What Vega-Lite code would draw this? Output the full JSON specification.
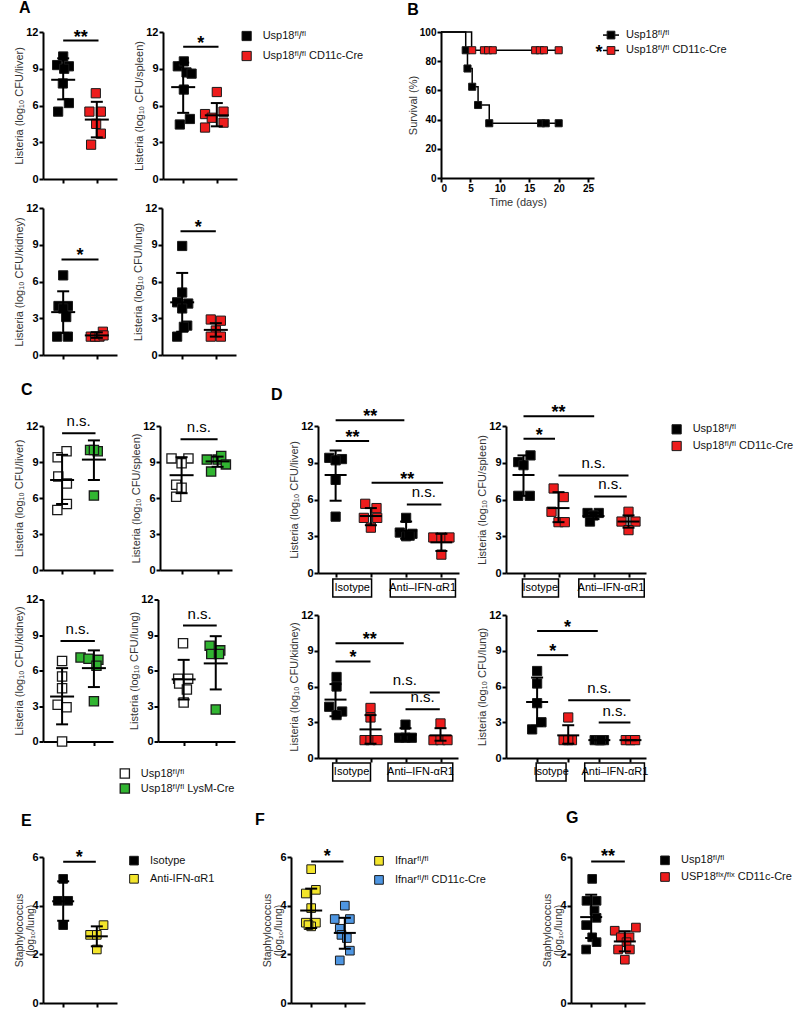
{
"$schema":"https://vega.github.io/schema/vega-lite/v6.json",
"padding":{"left":2,"top":0,"right":0,"bottom":0},
"background":"#ffffff",
"config":{
 "font":"Liberation Sans",
 "view":{"stroke":null},
 "axis":{"grid":false,"domainColor":"#000","domainWidth":2,"tickColor":"#000","tickWidth":2,"tickSize":4,"labelPadding":1,"labelOverlap":false,"labelFontWeight":"bold","labelFontSize":11,"labelColor":"#000","titleFontWeight":"normal","titleFontSize":11,"titleColor":"#333","titlePadding":2},
 "axisX":{"labels":false},
 "title":{"anchor":"start","fontSize":16,"fontWeight":"bold","color":"#000","frame":"bounds"},
 "point":{"opacity":1},
 "tick":{"opacity":1}
},
"datasets":{
"all":[
{"p":"A1","k":"pt","g":"bk","x":1.0,"y":10.0},{"p":"A1","k":"pt","g":"bk","x":0.82,"y":9.3},{"p":"A1","k":"pt","g":"bk","x":1.17,"y":9.2},{"p":"A1","k":"pt","g":"bk","x":1.03,"y":9.0},{"p":"A1","k":"pt","g":"bk","x":0.99,"y":7.8},{"p":"A1","k":"pt","g":"bk","x":1.17,"y":6.2},{"p":"A1","k":"pt","g":"bk","x":0.85,"y":5.5},
{"p":"A1","k":"pt","g":"rd","x":1.97,"y":7.0},{"p":"A1","k":"pt","g":"rd","x":1.78,"y":5.5},{"p":"A1","k":"pt","g":"rd","x":2.12,"y":5.5},{"p":"A1","k":"pt","g":"rd","x":1.98,"y":4.5},{"p":"A1","k":"pt","g":"rd","x":2.12,"y":3.7},{"p":"A1","k":"pt","g":"rd","x":1.83,"y":2.8},
{"p":"A1","k":"st","x":1,"m":8.1,"lo":6.5,"hi":9.85},{"p":"A1","k":"st","x":2,"m":4.85,"lo":3.4,"hi":6.3},
{"p":"A1","k":"sig","x1":1.0,"x2":2.05,"xc":1.52,"y":11.3,"t":"**"},

{"p":"A2","k":"pt","g":"bk","x":0.84,"y":9.2},{"p":"A2","k":"pt","g":"bk","x":1.02,"y":9.6},{"p":"A2","k":"pt","g":"bk","x":1.1,"y":8.7},{"p":"A2","k":"pt","g":"bk","x":1.25,"y":8.6},{"p":"A2","k":"pt","g":"bk","x":1.02,"y":7.3},{"p":"A2","k":"pt","g":"bk","x":0.9,"y":4.45},{"p":"A2","k":"pt","g":"bk","x":1.2,"y":4.9},
{"p":"A2","k":"pt","g":"rd","x":2.0,"y":7.1},{"p":"A2","k":"pt","g":"rd","x":1.65,"y":5.3},{"p":"A2","k":"pt","g":"rd","x":1.85,"y":5.0},{"p":"A2","k":"pt","g":"rd","x":2.2,"y":5.5},{"p":"A2","k":"pt","g":"rd","x":2.2,"y":4.6},{"p":"A2","k":"pt","g":"rd","x":1.65,"y":4.2},
{"p":"A2","k":"st","x":1,"m":7.5,"lo":5.4,"hi":9.5},{"p":"A2","k":"st","x":2,"m":5.2,"lo":4.3,"hi":6.2},
{"p":"A2","k":"sig","x1":1.0,"x2":2.05,"xc":1.52,"y":10.8,"t":"*"},

{"p":"A3","k":"pt","g":"bk","x":1.0,"y":6.5},{"p":"A3","k":"pt","g":"bk","x":0.86,"y":4.0},{"p":"A3","k":"pt","g":"bk","x":1.14,"y":4.0},{"p":"A3","k":"pt","g":"bk","x":1.0,"y":3.8},{"p":"A3","k":"pt","g":"bk","x":1.09,"y":3.1},{"p":"A3","k":"pt","g":"bk","x":0.82,"y":1.5},{"p":"A3","k":"pt","g":"bk","x":1.14,"y":1.5},
{"p":"A3","k":"pt","g":"rd","x":2.18,"y":1.9},{"p":"A3","k":"pt","g":"rd","x":1.82,"y":1.5},{"p":"A3","k":"pt","g":"rd","x":1.95,"y":1.5},{"p":"A3","k":"pt","g":"rd","x":2.08,"y":1.5},{"p":"A3","k":"pt","g":"rd","x":2.2,"y":1.6},
{"p":"A3","k":"st","x":1,"m":3.5,"lo":1.8,"hi":5.2},{"p":"A3","k":"st","x":2,"m":1.6,"lo":1.4,"hi":1.85},
{"p":"A3","k":"sig","x1":0.95,"x2":2.05,"xc":1.5,"y":7.8,"t":"*"},

{"p":"A4","k":"pt","g":"bk","x":1.0,"y":8.9},{"p":"A4","k":"pt","g":"bk","x":1.0,"y":5.1},{"p":"A4","k":"pt","g":"bk","x":0.85,"y":4.3},{"p":"A4","k":"pt","g":"bk","x":1.18,"y":4.2},{"p":"A4","k":"pt","g":"bk","x":1.0,"y":3.8},{"p":"A4","k":"pt","g":"bk","x":1.15,"y":2.4},{"p":"A4","k":"pt","g":"bk","x":1.05,"y":2.3},{"p":"A4","k":"pt","g":"bk","x":0.85,"y":1.5},
{"p":"A4","k":"pt","g":"rd","x":1.85,"y":2.9},{"p":"A4","k":"pt","g":"rd","x":2.15,"y":2.8},{"p":"A4","k":"pt","g":"rd","x":2.0,"y":2.0},{"p":"A4","k":"pt","g":"rd","x":1.85,"y":1.5},{"p":"A4","k":"pt","g":"rd","x":2.15,"y":1.5},
{"p":"A4","k":"st","x":1,"m":4.3,"lo":1.9,"hi":6.7},{"p":"A4","k":"st","x":2,"m":2.05,"lo":1.5,"hi":2.6},
{"p":"A4","k":"sig","x1":0.95,"x2":2.0,"xc":1.48,"y":10.1,"t":"*"},

{"p":"B","k":"ln","g":"bk","d":0,"s":100},{"p":"B","k":"ln","g":"bk","d":4.2,"s":87.5},{"p":"B","k":"ln","g":"bk","d":4.5,"s":75},{"p":"B","k":"ln","g":"bk","d":5.3,"s":62.5},{"p":"B","k":"ln","g":"bk","d":6.3,"s":50},{"p":"B","k":"ln","g":"bk","d":8.2,"s":37.5},{"p":"B","k":"ln","g":"bk","d":20,"s":37.5},
{"p":"B","k":"ln","g":"rd","d":0,"s":100},{"p":"B","k":"ln","g":"rd","d":5.2,"s":87.5},{"p":"B","k":"ln","g":"rd","d":20,"s":87.5},
{"p":"B","k":"mk","g":"bk","d":4.2,"s":87.5},{"p":"B","k":"mk","g":"bk","d":4.5,"s":75},{"p":"B","k":"mk","g":"bk","d":5.3,"s":62.5},{"p":"B","k":"mk","g":"bk","d":6.3,"s":50},{"p":"B","k":"mk","g":"bk","d":8.2,"s":37.5},{"p":"B","k":"mk","g":"bk","d":17.0,"s":37.5},{"p":"B","k":"mk","g":"bk","d":17.8,"s":37.5},{"p":"B","k":"mk","g":"bk","d":20,"s":37.5},
{"p":"B","k":"mk","g":"rd","d":5.3,"s":87.5},{"p":"B","k":"mk","g":"rd","d":7.3,"s":87.5},{"p":"B","k":"mk","g":"rd","d":8.0,"s":87.5},{"p":"B","k":"mk","g":"rd","d":8.8,"s":87.5},{"p":"B","k":"mk","g":"rd","d":16.0,"s":87.5},{"p":"B","k":"mk","g":"rd","d":16.8,"s":87.5},{"p":"B","k":"mk","g":"rd","d":17.5,"s":87.5},{"p":"B","k":"mk","g":"rd","d":20,"s":87.5},

{"p":"C1","k":"pt","g":"wh","x":1.14,"y":9.9},{"p":"C1","k":"pt","g":"wh","x":0.86,"y":9.4},{"p":"C1","k":"pt","g":"wh","x":0.88,"y":7.8},{"p":"C1","k":"pt","g":"wh","x":1.15,"y":7.2},{"p":"C1","k":"pt","g":"wh","x":1.15,"y":5.5},{"p":"C1","k":"pt","g":"wh","x":0.85,"y":5.0},
{"p":"C1","k":"pt","g":"gn","x":1.88,"y":10.0},{"p":"C1","k":"pt","g":"gn","x":2.12,"y":9.9},{"p":"C1","k":"pt","g":"gn","x":2.0,"y":10.0},{"p":"C1","k":"pt","g":"gn","x":2.0,"y":6.2},
{"p":"C1","k":"st","x":1,"m":7.5,"lo":5.5,"hi":9.6},{"p":"C1","k":"st","x":2,"m":9.2,"lo":7.5,"hi":10.8},
{"p":"C1","k":"sig","x1":1.0,"x2":2.05,"xc":1.52,"y":11.4,"t":"n.s."},

{"p":"C2","k":"pt","g":"wh","x":0.72,"y":9.3},{"p":"C2","k":"pt","g":"wh","x":1.19,"y":9.3},{"p":"C2","k":"pt","g":"wh","x":1.0,"y":8.9},{"p":"C2","k":"pt","g":"wh","x":0.85,"y":7.1},{"p":"C2","k":"pt","g":"wh","x":1.0,"y":6.85},{"p":"C2","k":"pt","g":"wh","x":0.85,"y":6.1},
{"p":"C2","k":"pt","g":"gn","x":1.7,"y":9.2},{"p":"C2","k":"pt","g":"gn","x":2.0,"y":9.2},{"p":"C2","k":"pt","g":"gn","x":2.1,"y":9.5},{"p":"C2","k":"pt","g":"gn","x":2.23,"y":8.8},{"p":"C2","k":"pt","g":"gn","x":1.82,"y":8.2},
{"p":"C2","k":"st","x":1,"m":7.9,"lo":6.4,"hi":9.4},{"p":"C2","k":"st","x":2,"m":9.05,"lo":8.6,"hi":9.45},
{"p":"C2","k":"sig","x1":0.97,"x2":2.0,"xc":1.48,"y":10.9,"t":"n.s."},

{"p":"C3","k":"pt","g":"wh","x":1.0,"y":6.8},{"p":"C3","k":"pt","g":"wh","x":1.0,"y":5.5},{"p":"C3","k":"pt","g":"wh","x":1.0,"y":4.5},{"p":"C3","k":"pt","g":"wh","x":0.86,"y":3.1},{"p":"C3","k":"pt","g":"wh","x":1.14,"y":2.9},{"p":"C3","k":"pt","g":"wh","x":1.0,"y":0.0},
{"p":"C3","k":"pt","g":"gn","x":1.58,"y":7.1},{"p":"C3","k":"pt","g":"gn","x":1.83,"y":7.0},{"p":"C3","k":"pt","g":"gn","x":2.14,"y":6.9},{"p":"C3","k":"pt","g":"gn","x":2.08,"y":6.4},{"p":"C3","k":"pt","g":"gn","x":2.0,"y":3.4},
{"p":"C3","k":"st","x":1,"m":3.8,"lo":1.45,"hi":6.2},{"p":"C3","k":"st","x":2,"m":6.2,"lo":4.6,"hi":7.7},
{"p":"C3","k":"sig","x1":0.95,"x2":2.03,"xc":1.49,"y":8.5,"t":"n.s."},

{"p":"C4","k":"pt","g":"wh","x":0.98,"y":8.3},{"p":"C4","k":"pt","g":"wh","x":0.83,"y":5.3},{"p":"C4","k":"pt","g":"wh","x":1.14,"y":5.3},{"p":"C4","k":"pt","g":"wh","x":0.86,"y":4.9},{"p":"C4","k":"pt","g":"wh","x":1.1,"y":4.4},{"p":"C4","k":"pt","g":"wh","x":1.0,"y":3.3},
{"p":"C4","k":"pt","g":"gn","x":1.81,"y":8.1},{"p":"C4","k":"pt","g":"gn","x":2.14,"y":7.7},{"p":"C4","k":"pt","g":"gn","x":1.86,"y":7.4},{"p":"C4","k":"pt","g":"gn","x":2.1,"y":7.4},{"p":"C4","k":"pt","g":"gn","x":2.0,"y":2.7},
{"p":"C4","k":"st","x":1,"m":5.25,"lo":3.55,"hi":6.9},{"p":"C4","k":"st","x":2,"m":6.6,"lo":4.4,"hi":8.9},
{"p":"C4","k":"sig","x1":0.98,"x2":2.03,"xc":1.5,"y":9.8,"t":"n.s."},

{"p":"D1","k":"pt","g":"bk","x":0.82,"y":9.4},{"p":"D1","k":"pt","g":"bk","x":1.18,"y":9.3},{"p":"D1","k":"pt","g":"bk","x":1.0,"y":9.2},{"p":"D1","k":"pt","g":"bk","x":1.0,"y":7.6},{"p":"D1","k":"pt","g":"bk","x":1.0,"y":4.6},
{"p":"D1","k":"pt","g":"rd","x":1.84,"y":5.65},{"p":"D1","k":"pt","g":"rd","x":2.16,"y":5.3},{"p":"D1","k":"pt","g":"rd","x":1.8,"y":4.5},{"p":"D1","k":"pt","g":"rd","x":2.18,"y":4.5},{"p":"D1","k":"pt","g":"rd","x":2.0,"y":3.7},
{"p":"D1","k":"pt","g":"bk","x":3.0,"y":4.5},{"p":"D1","k":"pt","g":"bk","x":2.82,"y":3.3},{"p":"D1","k":"pt","g":"bk","x":3.18,"y":3.2},{"p":"D1","k":"pt","g":"bk","x":3.0,"y":3.0},{"p":"D1","k":"pt","g":"bk","x":3.1,"y":3.05},
{"p":"D1","k":"pt","g":"rd","x":3.77,"y":2.9},{"p":"D1","k":"pt","g":"rd","x":4.0,"y":2.9},{"p":"D1","k":"pt","g":"rd","x":4.23,"y":2.9},{"p":"D1","k":"pt","g":"rd","x":4.0,"y":1.5},
{"p":"D1","k":"st","x":1,"m":8.0,"lo":5.9,"hi":10.0},{"p":"D1","k":"st","x":2,"m":4.65,"lo":3.9,"hi":5.3},{"p":"D1","k":"st","x":3,"m":3.45,"lo":2.8,"hi":4.2},{"p":"D1","k":"st","x":4,"m":2.5,"lo":1.8,"hi":3.2},
{"p":"D1","k":"sig","x1":1.0,"x2":2.95,"xc":1.98,"y":12.46,"t":"**"},{"p":"D1","k":"sig","x1":1.0,"x2":1.95,"xc":1.48,"y":10.77,"t":"**"},{"p":"D1","k":"sig","x1":2.02,"x2":4.05,"xc":3.03,"y":7.36,"t":"**"},{"p":"D1","k":"sig","x1":3.02,"x2":4.0,"xc":3.5,"y":5.6,"t":"n.s."},
{"p":"D1","k":"box","x1":0.92,"x2":2.02,"xc":1.47,"t":"Isotype"},{"p":"D1","k":"box","x1":2.55,"x2":4.4,"xc":3.47,"t":"Anti–IFN-αR1"},

{"p":"D2","k":"pt","g":"bk","x":0.85,"y":9.05},{"p":"D2","k":"pt","g":"bk","x":1.2,"y":9.6},{"p":"D2","k":"pt","g":"bk","x":1.0,"y":8.8},{"p":"D2","k":"pt","g":"bk","x":0.85,"y":6.3},{"p":"D2","k":"pt","g":"bk","x":1.18,"y":6.3},
{"p":"D2","k":"pt","g":"rd","x":1.86,"y":6.9},{"p":"D2","k":"pt","g":"rd","x":2.15,"y":6.2},{"p":"D2","k":"pt","g":"rd","x":1.8,"y":5.0},{"p":"D2","k":"pt","g":"rd","x":2.0,"y":4.15},{"p":"D2","k":"pt","g":"rd","x":2.18,"y":4.15},
{"p":"D2","k":"pt","g":"bk","x":2.83,"y":4.9},{"p":"D2","k":"pt","g":"bk","x":3.15,"y":4.9},{"p":"D2","k":"pt","g":"bk","x":3.0,"y":4.7},{"p":"D2","k":"pt","g":"bk","x":2.9,"y":4.2},
{"p":"D2","k":"pt","g":"rd","x":4.0,"y":5.0},{"p":"D2","k":"pt","g":"rd","x":3.8,"y":4.2},{"p":"D2","k":"pt","g":"rd","x":4.2,"y":4.2},{"p":"D2","k":"pt","g":"rd","x":4.0,"y":3.5},
{"p":"D2","k":"st","x":1,"m":8.0,"lo":6.3,"hi":9.6},{"p":"D2","k":"st","x":2,"m":5.3,"lo":4.15,"hi":6.6},{"p":"D2","k":"st","x":3,"m":4.65,"lo":4.4,"hi":4.9},{"p":"D2","k":"st","x":4,"m":4.2,"lo":3.7,"hi":4.7},
{"p":"D2","k":"sig","x1":1.0,"x2":3.02,"xc":2.0,"y":12.8,"t":"**"},{"p":"D2","k":"sig","x1":1.0,"x2":1.9,"xc":1.45,"y":10.96,"t":"*"},{"p":"D2","k":"sig","x1":2.0,"x2":4.0,"xc":3.0,"y":7.96,"t":"n.s."},{"p":"D2","k":"sig","x1":3.02,"x2":3.95,"xc":3.48,"y":6.25,"t":"n.s."},
{"p":"D2","k":"box","x1":0.97,"x2":2.0,"xc":1.48,"t":"Isotype"},{"p":"D2","k":"box","x1":2.58,"x2":4.45,"xc":3.5,"t":"Anti–IFN-αR1"},

{"p":"D3","k":"pt","g":"bk","x":1.03,"y":6.8},{"p":"D3","k":"pt","g":"bk","x":1.03,"y":6.0},{"p":"D3","k":"pt","g":"bk","x":0.82,"y":4.3},{"p":"D3","k":"pt","g":"bk","x":1.19,"y":3.9},{"p":"D3","k":"pt","g":"bk","x":1.03,"y":3.6},
{"p":"D3","k":"pt","g":"rd","x":2.0,"y":4.2},{"p":"D3","k":"pt","g":"rd","x":2.0,"y":3.4},{"p":"D3","k":"pt","g":"rd","x":1.83,"y":1.5},{"p":"D3","k":"pt","g":"rd","x":2.0,"y":1.5},{"p":"D3","k":"pt","g":"rd","x":2.2,"y":1.5},
{"p":"D3","k":"pt","g":"bk","x":3.0,"y":2.8},{"p":"D3","k":"pt","g":"bk","x":2.82,"y":1.7},{"p":"D3","k":"pt","g":"bk","x":3.0,"y":1.7},{"p":"D3","k":"pt","g":"bk","x":3.18,"y":1.7},
{"p":"D3","k":"pt","g":"rd","x":4.0,"y":2.9},{"p":"D3","k":"pt","g":"rd","x":3.8,"y":1.5},{"p":"D3","k":"pt","g":"rd","x":4.0,"y":1.5},{"p":"D3","k":"pt","g":"rd","x":4.2,"y":1.5},
{"p":"D3","k":"st","x":1,"m":4.9,"lo":3.5,"hi":6.2},{"p":"D3","k":"st","x":2,"m":2.4,"lo":1.2,"hi":3.6},{"p":"D3","k":"st","x":3,"m":1.95,"lo":1.45,"hi":2.5},{"p":"D3","k":"st","x":4,"m":1.9,"lo":1.45,"hi":2.5},
{"p":"D3","k":"sig","x1":1.0,"x2":2.95,"xc":1.98,"y":9.63,"t":"**"},{"p":"D3","k":"sig","x1":1.0,"x2":2.0,"xc":1.5,"y":8.1,"t":"*"},{"p":"D3","k":"sig","x1":1.98,"x2":3.98,"xc":2.98,"y":5.5,"t":"n.s."},{"p":"D3","k":"sig","x1":3.0,"x2":3.98,"xc":3.49,"y":4.1,"t":"n.s."},
{"p":"D3","k":"box","x1":0.92,"x2":2.0,"xc":1.46,"t":"Isotype"},{"p":"D3","k":"box","x1":2.5,"x2":4.35,"xc":3.43,"t":"Anti–IFN-αR1"},

{"p":"D4","k":"pt","g":"bk","x":1.0,"y":7.3},{"p":"D4","k":"pt","g":"bk","x":1.0,"y":6.25},{"p":"D4","k":"pt","g":"bk","x":1.0,"y":4.6},{"p":"D4","k":"pt","g":"bk","x":1.14,"y":3.0},{"p":"D4","k":"pt","g":"bk","x":0.84,"y":2.4},
{"p":"D4","k":"pt","g":"rd","x":2.0,"y":3.4},{"p":"D4","k":"pt","g":"rd","x":1.85,"y":1.5},{"p":"D4","k":"pt","g":"rd","x":2.12,"y":1.5},{"p":"D4","k":"pt","g":"rd","x":2.0,"y":1.5},
{"p":"D4","k":"pt","g":"bk","x":2.85,"y":1.5},{"p":"D4","k":"pt","g":"bk","x":3.0,"y":1.5},{"p":"D4","k":"pt","g":"bk","x":3.15,"y":1.5},{"p":"D4","k":"pt","g":"bk","x":3.05,"y":1.5},
{"p":"D4","k":"pt","g":"rd","x":3.85,"y":1.5},{"p":"D4","k":"pt","g":"rd","x":4.0,"y":1.5},{"p":"D4","k":"pt","g":"rd","x":4.15,"y":1.5},
{"p":"D4","k":"st","x":1,"m":4.7,"lo":2.7,"hi":6.75},{"p":"D4","k":"st","x":2,"m":1.9,"lo":1.2,"hi":2.75},{"p":"D4","k":"st","x":3,"m":1.5,"lo":1.5,"hi":1.5},{"p":"D4","k":"st","x":4,"m":1.5,"lo":1.5,"hi":1.5},
{"p":"D4","k":"sig","x1":1.0,"x2":2.95,"xc":1.98,"y":10.65,"t":"*"},{"p":"D4","k":"sig","x1":1.0,"x2":2.0,"xc":1.5,"y":8.63,"t":"*"},{"p":"D4","k":"sig","x1":2.0,"x2":4.0,"xc":3.0,"y":4.85,"t":"n.s."},{"p":"D4","k":"sig","x1":2.98,"x2":4.0,"xc":3.49,"y":2.97,"t":"n.s."},
{"p":"D4","k":"box","x1":0.97,"x2":1.93,"xc":1.45,"t":"Isotype"},{"p":"D4","k":"box","x1":2.53,"x2":4.45,"xc":3.5,"t":"Anti–IFN-αR1"},

{"p":"E","k":"pt","g":"bk","x":1.0,"y":5.1},{"p":"E","k":"pt","g":"bk","x":0.84,"y":4.2},{"p":"E","k":"pt","g":"bk","x":1.15,"y":4.2},{"p":"E","k":"pt","g":"bk","x":1.0,"y":3.2},
{"p":"E","k":"pt","g":"yl","x":2.2,"y":3.2},{"p":"E","k":"pt","g":"yl","x":1.8,"y":2.8},{"p":"E","k":"pt","g":"yl","x":2.0,"y":2.8},{"p":"E","k":"pt","g":"yl","x":2.0,"y":2.2},
{"p":"E","k":"st","x":1,"m":4.18,"lo":3.38,"hi":5.0},{"p":"E","k":"st","x":2,"m":2.74,"lo":2.33,"hi":3.15},
{"p":"E","k":"sig","x1":1.0,"x2":1.97,"xc":1.48,"y":5.8,"t":"*"},

{"p":"F","k":"pt","g":"yl","x":1.0,"y":5.5},{"p":"F","k":"pt","g":"yl","x":1.14,"y":4.65},{"p":"F","k":"pt","g":"yl","x":0.84,"y":4.5},{"p":"F","k":"pt","g":"yl","x":1.0,"y":3.9},{"p":"F","k":"pt","g":"yl","x":0.84,"y":3.3},{"p":"F","k":"pt","g":"yl","x":1.14,"y":3.3},{"p":"F","k":"pt","g":"yl","x":1.0,"y":3.15},{"p":"F","k":"pt","g":"yl","x":0.92,"y":3.2},
{"p":"F","k":"pt","g":"bl","x":2.0,"y":4.0},{"p":"F","k":"pt","g":"bl","x":1.7,"y":3.45},{"p":"F","k":"pt","g":"bl","x":2.15,"y":3.45},{"p":"F","k":"pt","g":"bl","x":1.85,"y":3.05},{"p":"F","k":"pt","g":"bl","x":1.9,"y":2.8},{"p":"F","k":"pt","g":"bl","x":2.06,"y":2.67},{"p":"F","k":"pt","g":"bl","x":2.15,"y":2.15},{"p":"F","k":"pt","g":"bl","x":1.85,"y":1.75},
{"p":"F","k":"st","x":1,"m":3.8,"lo":3.08,"hi":4.7},{"p":"F","k":"st","x":2,"m":2.88,"lo":2.23,"hi":3.5},
{"p":"F","k":"sig","x1":1.0,"x2":1.96,"xc":1.48,"y":5.82,"t":"*"},

{"p":"G","k":"pt","g":"bk","x":1.03,"y":5.1},{"p":"G","k":"pt","g":"bk","x":0.86,"y":4.2},{"p":"G","k":"pt","g":"bk","x":1.16,"y":4.2},{"p":"G","k":"pt","g":"bk","x":1.1,"y":3.8},{"p":"G","k":"pt","g":"bk","x":1.16,"y":3.5},{"p":"G","k":"pt","g":"bk","x":0.85,"y":3.2},{"p":"G","k":"pt","g":"bk","x":1.03,"y":2.7},{"p":"G","k":"pt","g":"bk","x":1.16,"y":2.5},{"p":"G","k":"pt","g":"bk","x":0.85,"y":2.2},
{"p":"G","k":"pt","g":"rd","x":2.33,"y":3.1},{"p":"G","k":"pt","g":"rd","x":1.7,"y":2.97},{"p":"G","k":"pt","g":"rd","x":1.88,"y":2.7},{"p":"G","k":"pt","g":"rd","x":2.14,"y":2.7},{"p":"G","k":"pt","g":"rd","x":2.05,"y":2.5},{"p":"G","k":"pt","g":"rd","x":1.8,"y":2.2},{"p":"G","k":"pt","g":"rd","x":2.15,"y":2.2},{"p":"G","k":"pt","g":"rd","x":2.0,"y":1.78},
{"p":"G","k":"st","x":1,"m":3.53,"lo":2.67,"hi":4.45},{"p":"G","k":"st","x":2,"m":2.53,"lo":2.12,"hi":2.95},
{"p":"G","k":"sig","x1":1.0,"x2":2.0,"xc":1.5,"y":5.82,"t":"**"}
],
"leg":[
{"L":"A","i":0,"g":"bk","t":"Usp18ᶠˡ/ᶠˡ"},{"L":"A","i":1,"g":"rd","t":"Usp18ᶠˡ/ᶠˡ CD11c-Cre"},
{"L":"B","i":0,"g":"bk","t":"Usp18ᶠˡ/ᶠˡ"},{"L":"B","i":1,"g":"rd","t":"Usp18ᶠˡ/ᶠˡ CD11c-Cre","s":"*"},
{"L":"C","i":0,"g":"wh","t":"Usp18ᶠˡ/ᶠˡ"},{"L":"C","i":1,"g":"gn","t":"Usp18ᶠˡ/ᶠˡ LysM-Cre"},
{"L":"D","i":0,"g":"bk","t":"Usp18ᶠˡ/ᶠˡ"},{"L":"D","i":1,"g":"rd","t":"Usp18ᶠˡ/ᶠˡ CD11c-Cre"},
{"L":"E","i":0,"g":"bk","t":"Isotype"},{"L":"E","i":1,"g":"yl","t":"Anti-IFN-αR1"},
{"L":"F","i":0,"g":"yl","t":"Ifnarᶠˡ/ᶠˡ"},{"L":"F","i":1,"g":"bl","t":"Ifnarᶠˡ/ᶠˡ CD11c-Cre"},
{"L":"G","i":0,"g":"bk","t":"Usp18ᶠˡ/ᶠˡ"},{"L":"G","i":1,"g":"rd","t":"USP18ᶠˡˣ/ᶠˡˣ CD11c-Cre"}
]
},
"spacing":22,
"vconcat":[
{"spacing":24,"hconcat":[
 {"title":{"text":"A","dx":17,"offset":10},"spacing":18,"vconcat":[
  {"bounds":"flush","spacing":46,"hconcat":[
   {"width":74,"height":147,"data":{"name":"all"},"transform":[{"filter":"datum.p=='A1'"}],"layer":[
    {"transform":[{"filter":"datum.k=='pt'"}],"mark":{"type":"point","shape":"square","filled":true,"size":85,"stroke":"#1a1a1a","strokeWidth":1},"encoding":{"x":{"field":"x","type":"quantitative","scale":{"domain":[0.5,2.5]},"axis":{"values":[1,2],"tickCount":20,"title":null}},"y":{"field":"y","type":"quantitative","scale":{"domain":[0,12]},"axis":{"values":[0,3,6,9,12],"tickCount":20,"labelOverlap":false,"format":"d","title":"Listeria (log₁₀ CFU/liver)","minExtent":41,"titleX":-19}},"fill":{"field":"g","type":"nominal","scale":{"domain":["bk","rd","wh","gn","yl","bl"],"range":["#000000","#ee1c1c","#ffffff","#31b531","#f3e52b","#4e96e2"]},"legend":null}}},
    {"transform":[{"filter":"datum.k=='st'"}],"mark":{"type":"rule","strokeWidth":2,"color":"#000"},"encoding":{"x":{"field":"x","type":"quantitative"},"y":{"field":"lo","type":"quantitative"},"y2":{"field":"hi"}}},
    {"transform":[{"filter":"datum.k=='st'"}],"mark":{"type":"tick","orient":"horizontal","size":24,"thickness":2,"color":"#000"},"encoding":{"x":{"field":"x","type":"quantitative"},"y":{"field":"m","type":"quantitative"}}},
    {"transform":[{"filter":"datum.k=='st'"}],"mark":{"type":"tick","orient":"horizontal","size":12,"thickness":2,"color":"#000"},"encoding":{"x":{"field":"x","type":"quantitative"},"y":{"field":"lo","type":"quantitative"}}},
    {"transform":[{"filter":"datum.k=='st'"}],"mark":{"type":"tick","orient":"horizontal","size":12,"thickness":2,"color":"#000"},"encoding":{"x":{"field":"x","type":"quantitative"},"y":{"field":"hi","type":"quantitative"}}},
    {"transform":[{"filter":"datum.k=='sig'"}],"mark":{"type":"rule","strokeWidth":2,"color":"#000"},"encoding":{"x":{"field":"x1","type":"quantitative"},"x2":{"field":"x2"},"y":{"field":"y","type":"quantitative"}}},
    {"transform":[{"filter":"datum.k=='sig' && datum.t!='n.s.'"}],"mark":{"type":"text","fontSize":18,"fontWeight":"bold","baseline":"alphabetic","dy":2,"color":"#000"},"encoding":{"x":{"field":"xc","type":"quantitative"},"y":{"field":"y","type":"quantitative"},"text":{"field":"t"}}}
   ]},
   {"width":74,"height":147,"data":{"name":"all"},"transform":[{"filter":"datum.p=='A2'"}],"layer":[
    {"transform":[{"filter":"datum.k=='pt'"}],"mark":{"type":"point","shape":"square","filled":true,"size":85,"stroke":"#1a1a1a","strokeWidth":1},"encoding":{"x":{"field":"x","type":"quantitative","scale":{"domain":[0.5,2.5]},"axis":{"values":[1,2],"tickCount":20,"title":null}},"y":{"field":"y","type":"quantitative","scale":{"domain":[0,12]},"axis":{"values":[0,3,6,9,12],"tickCount":20,"labelOverlap":false,"format":"d","title":"Listeria (log₁₀ CFU/spleen)","minExtent":41,"titleX":-19}},"fill":{"field":"g","type":"nominal","scale":{"domain":["bk","rd","wh","gn","yl","bl"],"range":["#000000","#ee1c1c","#ffffff","#31b531","#f3e52b","#4e96e2"]},"legend":null}}},
    {"transform":[{"filter":"datum.k=='st'"}],"mark":{"type":"rule","strokeWidth":2,"color":"#000"},"encoding":{"x":{"field":"x","type":"quantitative"},"y":{"field":"lo","type":"quantitative"},"y2":{"field":"hi"}}},
    {"transform":[{"filter":"datum.k=='st'"}],"mark":{"type":"tick","orient":"horizontal","size":24,"thickness":2,"color":"#000"},"encoding":{"x":{"field":"x","type":"quantitative"},"y":{"field":"m","type":"quantitative"}}},
    {"transform":[{"filter":"datum.k=='st'"}],"mark":{"type":"tick","orient":"horizontal","size":12,"thickness":2,"color":"#000"},"encoding":{"x":{"field":"x","type":"quantitative"},"y":{"field":"lo","type":"quantitative"}}},
    {"transform":[{"filter":"datum.k=='st'"}],"mark":{"type":"tick","orient":"horizontal","size":12,"thickness":2,"color":"#000"},"encoding":{"x":{"field":"x","type":"quantitative"},"y":{"field":"hi","type":"quantitative"}}},
    {"transform":[{"filter":"datum.k=='sig'"}],"mark":{"type":"rule","strokeWidth":2,"color":"#000"},"encoding":{"x":{"field":"x1","type":"quantitative"},"x2":{"field":"x2"},"y":{"field":"y","type":"quantitative"}}},
    {"transform":[{"filter":"datum.k=='sig' && datum.t!='n.s.'"}],"mark":{"type":"text","fontSize":18,"fontWeight":"bold","baseline":"alphabetic","dy":2,"color":"#000"},"encoding":{"x":{"field":"xc","type":"quantitative"},"y":{"field":"y","type":"quantitative"},"text":{"field":"t"}}}
   ]},
   {"width":100,"height":44,"data":{"name":"leg"},"transform":[{"filter":"datum.L=='A'"}],"layer":[
    {"mark":{"type":"point","shape":"square","filled":true,"size":85,"stroke":"#1a1a1a","strokeWidth":1},"encoding":{"x":{"datum":0,"type":"quantitative","scale":{"domain":[0.46,1.46]},"axis":null},"y":{"field":"i","type":"quantitative","scale":{"domain":[-0.0909,1.909],"reverse":true},"axis":null},"fill":{"field":"g","type":"nominal","scale":{"domain":["bk","rd","wh","gn","yl","bl"],"range":["#000000","#ee1c1c","#ffffff","#31b531","#f3e52b","#4e96e2"]},"legend":null}}},
    {"mark":{"type":"text","align":"left","baseline":"middle","dx":16,"fontSize":11,"color":"#111"},"encoding":{"x":{"datum":0,"type":"quantitative"},"y":{"field":"i","type":"quantitative"},"text":{"field":"t"}}}
   ]}
  ]},
  {"bounds":"flush","spacing":45,"hconcat":[
   {"width":74,"height":147,"data":{"name":"all"},"transform":[{"filter":"datum.p=='A3'"}],"layer":[
    {"transform":[{"filter":"datum.k=='pt'"}],"mark":{"type":"point","shape":"square","filled":true,"size":85,"stroke":"#1a1a1a","strokeWidth":1},"encoding":{"x":{"field":"x","type":"quantitative","scale":{"domain":[0.5,2.5]},"axis":{"values":[1,2],"tickCount":20,"title":null}},"y":{"field":"y","type":"quantitative","scale":{"domain":[0,12]},"axis":{"values":[0,3,6,9,12],"tickCount":20,"labelOverlap":false,"format":"d","title":"Listeria (log₁₀ CFU/kidney)","minExtent":41,"titleX":-19}},"fill":{"field":"g","type":"nominal","scale":{"domain":["bk","rd","wh","gn","yl","bl"],"range":["#000000","#ee1c1c","#ffffff","#31b531","#f3e52b","#4e96e2"]},"legend":null}}},
    {"transform":[{"filter":"datum.k=='st'"}],"mark":{"type":"rule","strokeWidth":2,"color":"#000"},"encoding":{"x":{"field":"x","type":"quantitative"},"y":{"field":"lo","type":"quantitative"},"y2":{"field":"hi"}}},
    {"transform":[{"filter":"datum.k=='st'"}],"mark":{"type":"tick","orient":"horizontal","size":24,"thickness":2,"color":"#000"},"encoding":{"x":{"field":"x","type":"quantitative"},"y":{"field":"m","type":"quantitative"}}},
    {"transform":[{"filter":"datum.k=='st'"}],"mark":{"type":"tick","orient":"horizontal","size":12,"thickness":2,"color":"#000"},"encoding":{"x":{"field":"x","type":"quantitative"},"y":{"field":"lo","type":"quantitative"}}},
    {"transform":[{"filter":"datum.k=='st'"}],"mark":{"type":"tick","orient":"horizontal","size":12,"thickness":2,"color":"#000"},"encoding":{"x":{"field":"x","type":"quantitative"},"y":{"field":"hi","type":"quantitative"}}},
    {"transform":[{"filter":"datum.k=='sig'"}],"mark":{"type":"rule","strokeWidth":2,"color":"#000"},"encoding":{"x":{"field":"x1","type":"quantitative"},"x2":{"field":"x2"},"y":{"field":"y","type":"quantitative"}}},
    {"transform":[{"filter":"datum.k=='sig' && datum.t!='n.s.'"}],"mark":{"type":"text","fontSize":18,"fontWeight":"bold","baseline":"alphabetic","dy":2,"color":"#000"},"encoding":{"x":{"field":"xc","type":"quantitative"},"y":{"field":"y","type":"quantitative"},"text":{"field":"t"}}}
   ]},
   {"width":74,"height":147,"data":{"name":"all"},"transform":[{"filter":"datum.p=='A4'"}],"layer":[
    {"transform":[{"filter":"datum.k=='pt'"}],"mark":{"type":"point","shape":"square","filled":true,"size":85,"stroke":"#1a1a1a","strokeWidth":1},"encoding":{"x":{"field":"x","type":"quantitative","scale":{"domain":[0.5,2.5]},"axis":{"values":[1,2],"tickCount":20,"title":null}},"y":{"field":"y","type":"quantitative","scale":{"domain":[0,12]},"axis":{"values":[0,3,6,9,12],"tickCount":20,"labelOverlap":false,"format":"d","title":"Listeria (log₁₀ CFU/lung)","minExtent":41,"titleX":-19}},"fill":{"field":"g","type":"nominal","scale":{"domain":["bk","rd","wh","gn","yl","bl"],"range":["#000000","#ee1c1c","#ffffff","#31b531","#f3e52b","#4e96e2"]},"legend":null}}},
    {"transform":[{"filter":"datum.k=='st'"}],"mark":{"type":"rule","strokeWidth":2,"color":"#000"},"encoding":{"x":{"field":"x","type":"quantitative"},"y":{"field":"lo","type":"quantitative"},"y2":{"field":"hi"}}},
    {"transform":[{"filter":"datum.k=='st'"}],"mark":{"type":"tick","orient":"horizontal","size":24,"thickness":2,"color":"#000"},"encoding":{"x":{"field":"x","type":"quantitative"},"y":{"field":"m","type":"quantitative"}}},
    {"transform":[{"filter":"datum.k=='st'"}],"mark":{"type":"tick","orient":"horizontal","size":12,"thickness":2,"color":"#000"},"encoding":{"x":{"field":"x","type":"quantitative"},"y":{"field":"lo","type":"quantitative"}}},
    {"transform":[{"filter":"datum.k=='st'"}],"mark":{"type":"tick","orient":"horizontal","size":12,"thickness":2,"color":"#000"},"encoding":{"x":{"field":"x","type":"quantitative"},"y":{"field":"hi","type":"quantitative"}}},
    {"transform":[{"filter":"datum.k=='sig'"}],"mark":{"type":"rule","strokeWidth":2,"color":"#000"},"encoding":{"x":{"field":"x1","type":"quantitative"},"x2":{"field":"x2"},"y":{"field":"y","type":"quantitative"}}},
    {"transform":[{"filter":"datum.k=='sig' && datum.t!='n.s.'"}],"mark":{"type":"text","fontSize":18,"fontWeight":"bold","baseline":"alphabetic","dy":2,"color":"#000"},"encoding":{"x":{"field":"xc","type":"quantitative"},"y":{"field":"y","type":"quantitative"},"text":{"field":"t"}}}
   ]}
  ]}
 ]},
 {"title":{"text":"B","dx":0,"offset":9},"bounds":"flush","spacing":17,"hconcat":[
  {"width":153,"height":146,"data":{"name":"all"},"transform":[{"filter":"datum.p=='B'"}],"layer":[
   {"transform":[{"filter":"datum.k=='ln'"}],"mark":{"type":"line","interpolate":"step-after","color":"#000","strokeWidth":1.5},"encoding":{"x":{"field":"d","type":"quantitative","scale":{"domain":[0,25]},"axis":{"values":[0,5,10,15,20,25],"tickCount":20,"labelOverlap":false,"format":"d","labels":true,"title":"Time (days)","labelFontSize":10,"titlePadding":3}},"y":{"field":"s","type":"quantitative","scale":{"domain":[0,100]},"axis":{"values":[0,20,40,60,80,100],"tickCount":20,"labelOverlap":false,"format":"d","title":"Survival (%)","labelFontSize":10,"titlePadding":1}},"detail":{"field":"g"}}},
   {"transform":[{"filter":"datum.k=='mk'"}],"mark":{"type":"point","shape":"square","filled":true,"size":50,"stroke":"#1a1a1a","strokeWidth":1},"encoding":{"x":{"field":"d","type":"quantitative"},"y":{"field":"s","type":"quantitative"},"fill":{"field":"g","type":"nominal","scale":{"domain":["bk","rd","wh","gn","yl","bl"],"range":["#000000","#ee1c1c","#ffffff","#31b531","#f3e52b","#4e96e2"]},"legend":null}}}
  ]},
  {"width":100,"height":40,"data":{"name":"leg"},"transform":[{"filter":"datum.L=='B'"}],"layer":[
   {"mark":{"type":"rule","color":"#000","strokeWidth":1.5},"encoding":{"x":{"datum":-0.08,"type":"quantitative","scale":{"domain":[0,1]},"axis":null},"x2":{"datum":0.08},"y":{"field":"i","type":"quantitative","scale":{"domain":[-0.1176,2.235],"reverse":true},"axis":null}}},
   {"mark":{"type":"point","shape":"square","filled":true,"size":60,"stroke":"#1a1a1a","strokeWidth":1},"encoding":{"x":{"datum":0,"type":"quantitative"},"y":{"field":"i","type":"quantitative"},"fill":{"field":"g","type":"nominal","scale":{"domain":["bk","rd","wh","gn","yl","bl"],"range":["#000000","#ee1c1c","#ffffff","#31b531","#f3e52b","#4e96e2"]},"legend":null}}},
   {"mark":{"type":"text","align":"left","baseline":"middle","dx":15,"fontSize":11,"color":"#111"},"encoding":{"x":{"datum":0,"type":"quantitative"},"y":{"field":"i","type":"quantitative"},"text":{"field":"t"}}},
   {"transform":[{"filter":"datum.s"}],"mark":{"type":"text","align":"center","baseline":"middle","dx":-12,"dy":3,"fontSize":18,"fontWeight":"bold","color":"#000"},"encoding":{"x":{"datum":0,"type":"quantitative"},"y":{"field":"i","type":"quantitative"},"text":{"field":"s"}}}
  ]}
 ]}
]},
{"spacing":12,"vconcat":[
 {"spacing":36,"hconcat":[
  {"title":{"text":"C","dx":19,"offset":16},"spacing":16.5,"vconcat":[
   {"spacing":18.5,"vconcat":[
   {"bounds":"flush","spacing":47,"hconcat":[
    {"width":70,"height":144,"data":{"name":"all"},"transform":[{"filter":"datum.p=='C1'"}],"layer":[
     {"transform":[{"filter":"datum.k=='pt'"}],"mark":{"type":"point","shape":"square","filled":true,"size":85,"stroke":"#1a1a1a","strokeWidth":1.3},"encoding":{"x":{"field":"x","type":"quantitative","scale":{"domain":[0.5,2.5]},"axis":{"values":[1,2],"tickCount":20,"title":null}},"y":{"field":"y","type":"quantitative","scale":{"domain":[0,12]},"axis":{"values":[0,3,6,9,12],"tickCount":20,"labelOverlap":false,"format":"d","title":"Listeria (log₁₀ CFU/liver)","minExtent":41,"titleX":-19}},"fill":{"field":"g","type":"nominal","scale":{"domain":["bk","rd","wh","gn","yl","bl"],"range":["#000000","#ee1c1c","#ffffff","#31b531","#f3e52b","#4e96e2"]},"legend":null}}},
     {"transform":[{"filter":"datum.k=='st'"}],"mark":{"type":"rule","strokeWidth":2,"color":"#000"},"encoding":{"x":{"field":"x","type":"quantitative"},"y":{"field":"lo","type":"quantitative"},"y2":{"field":"hi"}}},
     {"transform":[{"filter":"datum.k=='st'"}],"mark":{"type":"tick","orient":"horizontal","size":24,"thickness":2,"color":"#000"},"encoding":{"x":{"field":"x","type":"quantitative"},"y":{"field":"m","type":"quantitative"}}},
     {"transform":[{"filter":"datum.k=='st'"}],"mark":{"type":"tick","orient":"horizontal","size":12,"thickness":2,"color":"#000"},"encoding":{"x":{"field":"x","type":"quantitative"},"y":{"field":"lo","type":"quantitative"}}},
     {"transform":[{"filter":"datum.k=='st'"}],"mark":{"type":"tick","orient":"horizontal","size":12,"thickness":2,"color":"#000"},"encoding":{"x":{"field":"x","type":"quantitative"},"y":{"field":"hi","type":"quantitative"}}},
     {"transform":[{"filter":"datum.k=='sig'"}],"mark":{"type":"rule","strokeWidth":2,"color":"#000"},"encoding":{"x":{"field":"x1","type":"quantitative"},"x2":{"field":"x2"},"y":{"field":"y","type":"quantitative"}}},
     {"transform":[{"filter":"datum.k=='sig' && datum.t=='n.s.'"}],"mark":{"type":"text","fontSize":15,"baseline":"alphabetic","dy":-7,"color":"#000"},"encoding":{"x":{"field":"xc","type":"quantitative"},"y":{"field":"y","type":"quantitative"},"text":{"field":"t"}}}
    ]},
    {"width":72,"height":144,"data":{"name":"all"},"transform":[{"filter":"datum.p=='C2'"}],"layer":[
     {"transform":[{"filter":"datum.k=='pt'"}],"mark":{"type":"point","shape":"square","filled":true,"size":85,"stroke":"#1a1a1a","strokeWidth":1.3},"encoding":{"x":{"field":"x","type":"quantitative","scale":{"domain":[0.4,2.4]},"axis":{"values":[1,2],"tickCount":20,"title":null}},"y":{"field":"y","type":"quantitative","scale":{"domain":[0,12]},"axis":{"values":[0,3,6,9,12],"tickCount":20,"labelOverlap":false,"format":"d","title":"Listeria (log₁₀ CFU/spleen)","minExtent":41,"titleX":-19}},"fill":{"field":"g","type":"nominal","scale":{"domain":["bk","rd","wh","gn","yl","bl"],"range":["#000000","#ee1c1c","#ffffff","#31b531","#f3e52b","#4e96e2"]},"legend":null}}},
     {"transform":[{"filter":"datum.k=='st'"}],"mark":{"type":"rule","strokeWidth":2,"color":"#000"},"encoding":{"x":{"field":"x","type":"quantitative"},"y":{"field":"lo","type":"quantitative"},"y2":{"field":"hi"}}},
     {"transform":[{"filter":"datum.k=='st'"}],"mark":{"type":"tick","orient":"horizontal","size":24,"thickness":2,"color":"#000"},"encoding":{"x":{"field":"x","type":"quantitative"},"y":{"field":"m","type":"quantitative"}}},
     {"transform":[{"filter":"datum.k=='st'"}],"mark":{"type":"tick","orient":"horizontal","size":12,"thickness":2,"color":"#000"},"encoding":{"x":{"field":"x","type":"quantitative"},"y":{"field":"lo","type":"quantitative"}}},
     {"transform":[{"filter":"datum.k=='st'"}],"mark":{"type":"tick","orient":"horizontal","size":12,"thickness":2,"color":"#000"},"encoding":{"x":{"field":"x","type":"quantitative"},"y":{"field":"hi","type":"quantitative"}}},
     {"transform":[{"filter":"datum.k=='sig'"}],"mark":{"type":"rule","strokeWidth":2,"color":"#000"},"encoding":{"x":{"field":"x1","type":"quantitative"},"x2":{"field":"x2"},"y":{"field":"y","type":"quantitative"}}},
     {"transform":[{"filter":"datum.k=='sig' && datum.t=='n.s.'"}],"mark":{"type":"text","fontSize":15,"baseline":"alphabetic","dy":-7,"color":"#000"},"encoding":{"x":{"field":"xc","type":"quantitative"},"y":{"field":"y","type":"quantitative"},"text":{"field":"t"}}}
    ]}
   ]},
   {"bounds":"flush","spacing":45,"hconcat":[
    {"width":70,"height":142,"data":{"name":"all"},"transform":[{"filter":"datum.p=='C3'"}],"layer":[
     {"transform":[{"filter":"datum.k=='pt'"}],"mark":{"type":"point","shape":"square","filled":true,"size":85,"stroke":"#1a1a1a","strokeWidth":1.3},"encoding":{"x":{"field":"x","type":"quantitative","scale":{"domain":[0.5,2.5]},"axis":{"values":[1,2],"tickCount":20,"title":null}},"y":{"field":"y","type":"quantitative","scale":{"domain":[0,12]},"axis":{"values":[0,3,6,9,12],"tickCount":20,"labelOverlap":false,"format":"d","title":"Listeria (log₁₀ CFU/kidney)","minExtent":41,"titleX":-19}},"fill":{"field":"g","type":"nominal","scale":{"domain":["bk","rd","wh","gn","yl","bl"],"range":["#000000","#ee1c1c","#ffffff","#31b531","#f3e52b","#4e96e2"]},"legend":null}}},
     {"transform":[{"filter":"datum.k=='st'"}],"mark":{"type":"rule","strokeWidth":2,"color":"#000"},"encoding":{"x":{"field":"x","type":"quantitative"},"y":{"field":"lo","type":"quantitative"},"y2":{"field":"hi"}}},
     {"transform":[{"filter":"datum.k=='st'"}],"mark":{"type":"tick","orient":"horizontal","size":24,"thickness":2,"color":"#000"},"encoding":{"x":{"field":"x","type":"quantitative"},"y":{"field":"m","type":"quantitative"}}},
     {"transform":[{"filter":"datum.k=='st'"}],"mark":{"type":"tick","orient":"horizontal","size":12,"thickness":2,"color":"#000"},"encoding":{"x":{"field":"x","type":"quantitative"},"y":{"field":"lo","type":"quantitative"}}},
     {"transform":[{"filter":"datum.k=='st'"}],"mark":{"type":"tick","orient":"horizontal","size":12,"thickness":2,"color":"#000"},"encoding":{"x":{"field":"x","type":"quantitative"},"y":{"field":"hi","type":"quantitative"}}},
     {"transform":[{"filter":"datum.k=='sig'"}],"mark":{"type":"rule","strokeWidth":2,"color":"#000"},"encoding":{"x":{"field":"x1","type":"quantitative"},"x2":{"field":"x2"},"y":{"field":"y","type":"quantitative"}}},
     {"transform":[{"filter":"datum.k=='sig' && datum.t=='n.s.'"}],"mark":{"type":"text","fontSize":15,"baseline":"alphabetic","dy":-7,"color":"#000"},"encoding":{"x":{"field":"xc","type":"quantitative"},"y":{"field":"y","type":"quantitative"},"text":{"field":"t"}}}
    ]},
    {"width":77,"height":142,"data":{"name":"all"},"transform":[{"filter":"datum.p=='C4'"}],"layer":[
     {"transform":[{"filter":"datum.k=='pt'"}],"mark":{"type":"point","shape":"square","filled":true,"size":85,"stroke":"#1a1a1a","strokeWidth":1.3},"encoding":{"x":{"field":"x","type":"quantitative","scale":{"domain":[0.33,2.52]},"axis":{"values":[1,2],"tickCount":20,"title":null}},"y":{"field":"y","type":"quantitative","scale":{"domain":[0,12]},"axis":{"values":[0,3,6,9,12],"tickCount":20,"labelOverlap":false,"format":"d","title":"Listeria (log₁₀ CFU/lung)","minExtent":41,"titleX":-19}},"fill":{"field":"g","type":"nominal","scale":{"domain":["bk","rd","wh","gn","yl","bl"],"range":["#000000","#ee1c1c","#ffffff","#31b531","#f3e52b","#4e96e2"]},"legend":null}}},
     {"transform":[{"filter":"datum.k=='st'"}],"mark":{"type":"rule","strokeWidth":2,"color":"#000"},"encoding":{"x":{"field":"x","type":"quantitative"},"y":{"field":"lo","type":"quantitative"},"y2":{"field":"hi"}}},
     {"transform":[{"filter":"datum.k=='st'"}],"mark":{"type":"tick","orient":"horizontal","size":24,"thickness":2,"color":"#000"},"encoding":{"x":{"field":"x","type":"quantitative"},"y":{"field":"m","type":"quantitative"}}},
     {"transform":[{"filter":"datum.k=='st'"}],"mark":{"type":"tick","orient":"horizontal","size":12,"thickness":2,"color":"#000"},"encoding":{"x":{"field":"x","type":"quantitative"},"y":{"field":"lo","type":"quantitative"}}},
     {"transform":[{"filter":"datum.k=='st'"}],"mark":{"type":"tick","orient":"horizontal","size":12,"thickness":2,"color":"#000"},"encoding":{"x":{"field":"x","type":"quantitative"},"y":{"field":"hi","type":"quantitative"}}},
     {"transform":[{"filter":"datum.k=='sig'"}],"mark":{"type":"rule","strokeWidth":2,"color":"#000"},"encoding":{"x":{"field":"x1","type":"quantitative"},"x2":{"field":"x2"},"y":{"field":"y","type":"quantitative"}}},
     {"transform":[{"filter":"datum.k=='sig' && datum.t=='n.s.'"}],"mark":{"type":"text","fontSize":15,"baseline":"alphabetic","dy":-7,"color":"#000"},"encoding":{"x":{"field":"xc","type":"quantitative"},"y":{"field":"y","type":"quantitative"},"text":{"field":"t"}}}
    ]}
   ]}
   ]},
   {"width":100,"height":30,"data":{"name":"leg"},"transform":[{"filter":"datum.L=='C'"}],"layer":[
    {"mark":{"type":"point","shape":"square","filled":true,"size":85,"stroke":"#1a1a1a","strokeWidth":1.3},"encoding":{"x":{"datum":0,"type":"quantitative","scale":{"domain":[-0.857,0.143]},"axis":null},"y":{"field":"i","type":"quantitative","scale":{"domain":[-0.256,1.449],"reverse":true},"axis":null},"fill":{"field":"g","type":"nominal","scale":{"domain":["bk","rd","wh","gn","yl","bl"],"range":["#000000","#ee1c1c","#ffffff","#31b531","#f3e52b","#4e96e2"]},"legend":null}}},
    {"mark":{"type":"text","align":"left","baseline":"middle","dx":16,"fontSize":11,"color":"#111"},"encoding":{"x":{"datum":0,"type":"quantitative"},"y":{"field":"i","type":"quantitative"},"text":{"field":"t"}}}
   ]}
  ]},
  {"title":{"text":"D","dx":-6,"offset":1},"spacing":11,"vconcat":[
   {"bounds":"flush","spacing":47,"hconcat":[
    {"width":141,"height":147,"data":{"name":"all"},"transform":[{"filter":"datum.p=='D1'"}],"layer":[
     {"transform":[{"filter":"datum.k=='pt'"}],"mark":{"type":"point","shape":"square","filled":true,"size":85,"stroke":"#1a1a1a","strokeWidth":1},"encoding":{"x":{"field":"x","type":"quantitative","scale":{"domain":[0.5,4.35]},"axis":{"values":[1,2,3,4],"tickCount":20,"title":null}},"y":{"field":"y","type":"quantitative","scale":{"domain":[0,12]},"axis":{"values":[0,3,6,9,12],"tickCount":20,"labelOverlap":false,"format":"d","title":"Listeria (log₁₀ CFU/liver)","minExtent":41,"titleX":-19}},"fill":{"field":"g","type":"nominal","scale":{"domain":["bk","rd","wh","gn","yl","bl"],"range":["#000000","#ee1c1c","#ffffff","#31b531","#f3e52b","#4e96e2"]},"legend":null}}},
     {"transform":[{"filter":"datum.k=='st'"}],"mark":{"type":"rule","strokeWidth":2,"color":"#000"},"encoding":{"x":{"field":"x","type":"quantitative"},"y":{"field":"lo","type":"quantitative"},"y2":{"field":"hi"}}},
     {"transform":[{"filter":"datum.k=='st'"}],"mark":{"type":"tick","orient":"horizontal","size":22,"thickness":2,"color":"#000"},"encoding":{"x":{"field":"x","type":"quantitative"},"y":{"field":"m","type":"quantitative"}}},
     {"transform":[{"filter":"datum.k=='st'"}],"mark":{"type":"tick","orient":"horizontal","size":12,"thickness":2,"color":"#000"},"encoding":{"x":{"field":"x","type":"quantitative"},"y":{"field":"lo","type":"quantitative"}}},
     {"transform":[{"filter":"datum.k=='st'"}],"mark":{"type":"tick","orient":"horizontal","size":12,"thickness":2,"color":"#000"},"encoding":{"x":{"field":"x","type":"quantitative"},"y":{"field":"hi","type":"quantitative"}}},
     {"transform":[{"filter":"datum.k=='sig'"}],"mark":{"type":"rule","strokeWidth":2,"color":"#000"},"encoding":{"x":{"field":"x1","type":"quantitative"},"x2":{"field":"x2"},"y":{"field":"y","type":"quantitative"}}},
     {"transform":[{"filter":"datum.k=='sig' && datum.t!='n.s.'"}],"mark":{"type":"text","fontSize":18,"fontWeight":"bold","baseline":"alphabetic","dy":2,"color":"#000"},"encoding":{"x":{"field":"xc","type":"quantitative"},"y":{"field":"y","type":"quantitative"},"text":{"field":"t"}}},
     {"transform":[{"filter":"datum.k=='sig' && datum.t=='n.s.'"}],"mark":{"type":"text","fontSize":15,"baseline":"alphabetic","dy":-7,"color":"#000"},"encoding":{"x":{"field":"xc","type":"quantitative"},"y":{"field":"y","type":"quantitative"},"text":{"field":"t"}}},
     {"transform":[{"filter":"datum.k=='box'"}],"mark":{"type":"rect","fill":"#fff","stroke":"#000","strokeWidth":1.5,"yOffset":6,"y2Offset":24},"encoding":{"x":{"field":"x1","type":"quantitative"},"x2":{"field":"x2"},"y":{"datum":0},"y2":{"datum":0}}},
     {"transform":[{"filter":"datum.k=='box'"}],"mark":{"type":"text","fontSize":11,"baseline":"middle","dy":15,"color":"#000"},"encoding":{"x":{"field":"xc","type":"quantitative"},"y":{"datum":0},"text":{"field":"t"}}}
    ]},
    {"width":140,"height":147,"data":{"name":"all"},"transform":[{"filter":"datum.p=='D2'"}],"layer":[
     {"transform":[{"filter":"datum.k=='pt'"}],"mark":{"type":"point","shape":"square","filled":true,"size":85,"stroke":"#1a1a1a","strokeWidth":1},"encoding":{"x":{"field":"x","type":"quantitative","scale":{"domain":[0.5,4.29]},"axis":{"values":[1,2,3,4],"tickCount":20,"title":null}},"y":{"field":"y","type":"quantitative","scale":{"domain":[0,12]},"axis":{"values":[0,3,6,9,12],"tickCount":20,"labelOverlap":false,"format":"d","title":"Listeria (log₁₀ CFU/spleen)","minExtent":41,"titleX":-19}},"fill":{"field":"g","type":"nominal","scale":{"domain":["bk","rd","wh","gn","yl","bl"],"range":["#000000","#ee1c1c","#ffffff","#31b531","#f3e52b","#4e96e2"]},"legend":null}}},
     {"transform":[{"filter":"datum.k=='st'"}],"mark":{"type":"rule","strokeWidth":2,"color":"#000"},"encoding":{"x":{"field":"x","type":"quantitative"},"y":{"field":"lo","type":"quantitative"},"y2":{"field":"hi"}}},
     {"transform":[{"filter":"datum.k=='st'"}],"mark":{"type":"tick","orient":"horizontal","size":22,"thickness":2,"color":"#000"},"encoding":{"x":{"field":"x","type":"quantitative"},"y":{"field":"m","type":"quantitative"}}},
     {"transform":[{"filter":"datum.k=='st'"}],"mark":{"type":"tick","orient":"horizontal","size":12,"thickness":2,"color":"#000"},"encoding":{"x":{"field":"x","type":"quantitative"},"y":{"field":"lo","type":"quantitative"}}},
     {"transform":[{"filter":"datum.k=='st'"}],"mark":{"type":"tick","orient":"horizontal","size":12,"thickness":2,"color":"#000"},"encoding":{"x":{"field":"x","type":"quantitative"},"y":{"field":"hi","type":"quantitative"}}},
     {"transform":[{"filter":"datum.k=='sig'"}],"mark":{"type":"rule","strokeWidth":2,"color":"#000"},"encoding":{"x":{"field":"x1","type":"quantitative"},"x2":{"field":"x2"},"y":{"field":"y","type":"quantitative"}}},
     {"transform":[{"filter":"datum.k=='sig' && datum.t!='n.s.'"}],"mark":{"type":"text","fontSize":18,"fontWeight":"bold","baseline":"alphabetic","dy":2,"color":"#000"},"encoding":{"x":{"field":"xc","type":"quantitative"},"y":{"field":"y","type":"quantitative"},"text":{"field":"t"}}},
     {"transform":[{"filter":"datum.k=='sig' && datum.t=='n.s.'"}],"mark":{"type":"text","fontSize":15,"baseline":"alphabetic","dy":-7,"color":"#000"},"encoding":{"x":{"field":"xc","type":"quantitative"},"y":{"field":"y","type":"quantitative"},"text":{"field":"t"}}},
     {"transform":[{"filter":"datum.k=='box'"}],"mark":{"type":"rect","fill":"#fff","stroke":"#000","strokeWidth":1.5,"yOffset":6,"y2Offset":24},"encoding":{"x":{"field":"x1","type":"quantitative"},"x2":{"field":"x2"},"y":{"datum":0},"y2":{"datum":0}}},
     {"transform":[{"filter":"datum.k=='box'"}],"mark":{"type":"text","fontSize":11,"baseline":"middle","dy":15,"color":"#000"},"encoding":{"x":{"field":"xc","type":"quantitative"},"y":{"datum":0},"text":{"field":"t"}}}
    ]},
    {"width":90,"height":40,"data":{"name":"leg"},"transform":[{"filter":"datum.L=='D'"}],"layer":[
     {"mark":{"type":"point","shape":"square","filled":true,"size":85,"stroke":"#1a1a1a","strokeWidth":1},"encoding":{"x":{"datum":0,"type":"quantitative","scale":{"domain":[0.233,1.233]},"axis":null},"y":{"field":"i","type":"quantitative","scale":{"domain":[-0.03,2.19],"reverse":true},"axis":null},"fill":{"field":"g","type":"nominal","scale":{"domain":["bk","rd","wh","gn","yl","bl"],"range":["#000000","#ee1c1c","#ffffff","#31b531","#f3e52b","#4e96e2"]},"legend":null}}},
     {"mark":{"type":"text","align":"left","baseline":"middle","dx":16,"fontSize":11,"color":"#111"},"encoding":{"x":{"datum":0,"type":"quantitative"},"y":{"field":"i","type":"quantitative"},"text":{"field":"t"}}}
    ]}
   ]},
   {"bounds":"flush","spacing":48,"hconcat":[
    {"width":140,"height":143,"data":{"name":"all"},"transform":[{"filter":"datum.p=='D3'"}],"layer":[
     {"transform":[{"filter":"datum.k=='pt'"}],"mark":{"type":"point","shape":"square","filled":true,"size":85,"stroke":"#1a1a1a","strokeWidth":1},"encoding":{"x":{"field":"x","type":"quantitative","scale":{"domain":[0.54,4.44]},"axis":{"values":[1,2,3,4],"tickCount":20,"title":null}},"y":{"field":"y","type":"quantitative","scale":{"domain":[0,12]},"axis":{"values":[0,3,6,9,12],"tickCount":20,"labelOverlap":false,"format":"d","title":"Listeria (log₁₀ CFU/kidney)","minExtent":41,"titleX":-19}},"fill":{"field":"g","type":"nominal","scale":{"domain":["bk","rd","wh","gn","yl","bl"],"range":["#000000","#ee1c1c","#ffffff","#31b531","#f3e52b","#4e96e2"]},"legend":null}}},
     {"transform":[{"filter":"datum.k=='st'"}],"mark":{"type":"rule","strokeWidth":2,"color":"#000"},"encoding":{"x":{"field":"x","type":"quantitative"},"y":{"field":"lo","type":"quantitative"},"y2":{"field":"hi"}}},
     {"transform":[{"filter":"datum.k=='st'"}],"mark":{"type":"tick","orient":"horizontal","size":22,"thickness":2,"color":"#000"},"encoding":{"x":{"field":"x","type":"quantitative"},"y":{"field":"m","type":"quantitative"}}},
     {"transform":[{"filter":"datum.k=='st'"}],"mark":{"type":"tick","orient":"horizontal","size":12,"thickness":2,"color":"#000"},"encoding":{"x":{"field":"x","type":"quantitative"},"y":{"field":"lo","type":"quantitative"}}},
     {"transform":[{"filter":"datum.k=='st'"}],"mark":{"type":"tick","orient":"horizontal","size":12,"thickness":2,"color":"#000"},"encoding":{"x":{"field":"x","type":"quantitative"},"y":{"field":"hi","type":"quantitative"}}},
     {"transform":[{"filter":"datum.k=='sig'"}],"mark":{"type":"rule","strokeWidth":2,"color":"#000"},"encoding":{"x":{"field":"x1","type":"quantitative"},"x2":{"field":"x2"},"y":{"field":"y","type":"quantitative"}}},
     {"transform":[{"filter":"datum.k=='sig' && datum.t!='n.s.'"}],"mark":{"type":"text","fontSize":18,"fontWeight":"bold","baseline":"alphabetic","dy":2,"color":"#000"},"encoding":{"x":{"field":"xc","type":"quantitative"},"y":{"field":"y","type":"quantitative"},"text":{"field":"t"}}},
     {"transform":[{"filter":"datum.k=='sig' && datum.t=='n.s.'"}],"mark":{"type":"text","fontSize":15,"baseline":"alphabetic","dy":-7,"color":"#000"},"encoding":{"x":{"field":"xc","type":"quantitative"},"y":{"field":"y","type":"quantitative"},"text":{"field":"t"}}},
     {"transform":[{"filter":"datum.k=='box'"}],"mark":{"type":"rect","fill":"#fff","stroke":"#000","strokeWidth":1.5,"yOffset":5,"y2Offset":23},"encoding":{"x":{"field":"x1","type":"quantitative"},"x2":{"field":"x2"},"y":{"datum":0},"y2":{"datum":0}}},
     {"transform":[{"filter":"datum.k=='box'"}],"mark":{"type":"text","fontSize":11,"baseline":"middle","dy":14,"color":"#000"},"encoding":{"x":{"field":"xc","type":"quantitative"},"y":{"datum":0},"text":{"field":"t"}}}
    ]},
    {"width":140,"height":143,"data":{"name":"all"},"transform":[{"filter":"datum.p=='D4'"}],"layer":[
     {"transform":[{"filter":"datum.k=='pt'"}],"mark":{"type":"point","shape":"square","filled":true,"size":85,"stroke":"#1a1a1a","strokeWidth":1},"encoding":{"x":{"field":"x","type":"quantitative","scale":{"domain":[0.49,4.42]},"axis":{"values":[1,2,3,4],"tickCount":20,"title":null}},"y":{"field":"y","type":"quantitative","scale":{"domain":[0,12]},"axis":{"values":[0,3,6,9,12],"tickCount":20,"labelOverlap":false,"format":"d","title":"Listeria (log₁₀ CFU/lung)","minExtent":41,"titleX":-19}},"fill":{"field":"g","type":"nominal","scale":{"domain":["bk","rd","wh","gn","yl","bl"],"range":["#000000","#ee1c1c","#ffffff","#31b531","#f3e52b","#4e96e2"]},"legend":null}}},
     {"transform":[{"filter":"datum.k=='st'"}],"mark":{"type":"rule","strokeWidth":2,"color":"#000"},"encoding":{"x":{"field":"x","type":"quantitative"},"y":{"field":"lo","type":"quantitative"},"y2":{"field":"hi"}}},
     {"transform":[{"filter":"datum.k=='st'"}],"mark":{"type":"tick","orient":"horizontal","size":22,"thickness":2,"color":"#000"},"encoding":{"x":{"field":"x","type":"quantitative"},"y":{"field":"m","type":"quantitative"}}},
     {"transform":[{"filter":"datum.k=='st'"}],"mark":{"type":"tick","orient":"horizontal","size":12,"thickness":2,"color":"#000"},"encoding":{"x":{"field":"x","type":"quantitative"},"y":{"field":"lo","type":"quantitative"}}},
     {"transform":[{"filter":"datum.k=='st'"}],"mark":{"type":"tick","orient":"horizontal","size":12,"thickness":2,"color":"#000"},"encoding":{"x":{"field":"x","type":"quantitative"},"y":{"field":"hi","type":"quantitative"}}},
     {"transform":[{"filter":"datum.k=='sig'"}],"mark":{"type":"rule","strokeWidth":2,"color":"#000"},"encoding":{"x":{"field":"x1","type":"quantitative"},"x2":{"field":"x2"},"y":{"field":"y","type":"quantitative"}}},
     {"transform":[{"filter":"datum.k=='sig' && datum.t!='n.s.'"}],"mark":{"type":"text","fontSize":18,"fontWeight":"bold","baseline":"alphabetic","dy":2,"color":"#000"},"encoding":{"x":{"field":"xc","type":"quantitative"},"y":{"field":"y","type":"quantitative"},"text":{"field":"t"}}},
     {"transform":[{"filter":"datum.k=='sig' && datum.t=='n.s.'"}],"mark":{"type":"text","fontSize":15,"baseline":"alphabetic","dy":-7,"color":"#000"},"encoding":{"x":{"field":"xc","type":"quantitative"},"y":{"field":"y","type":"quantitative"},"text":{"field":"t"}}},
     {"transform":[{"filter":"datum.k=='box'"}],"mark":{"type":"rect","fill":"#fff","stroke":"#000","strokeWidth":1.5,"yOffset":5,"y2Offset":23},"encoding":{"x":{"field":"x1","type":"quantitative"},"x2":{"field":"x2"},"y":{"datum":0},"y2":{"datum":0}}},
     {"transform":[{"filter":"datum.k=='box'"}],"mark":{"type":"text","fontSize":11,"baseline":"middle","dy":14,"color":"#000"},"encoding":{"x":{"field":"xc","type":"quantitative"},"y":{"datum":0},"text":{"field":"t"}}}
    ]}
   ]}
  ]}
 ]},
 {"spacing":26,"hconcat":[
  {"title":{"text":"E","dx":19,"offset":20},"bounds":"flush","spacing":17,"hconcat":[
   {"width":74,"height":146,"data":{"name":"all"},"transform":[{"filter":"datum.p=='E'"}],"layer":[
    {"transform":[{"filter":"datum.k=='pt'"}],"mark":{"type":"point","shape":"square","filled":true,"size":75,"stroke":"#1a1a1a","strokeWidth":1},"encoding":{"x":{"field":"x","type":"quantitative","scale":{"domain":[0.5,2.5]},"axis":{"values":[1,2],"tickCount":20,"title":null}},"y":{"field":"y","type":"quantitative","scale":{"domain":[0,6]},"axis":{"values":[0,2,4,6],"tickCount":20,"labelOverlap":false,"format":"d","title":["Staphylococcus","(log₁₀/lung)"],"minExtent":41,"titleX":-19,"titleFontSize":10.5,"titleLineHeight":11}},"fill":{"field":"g","type":"nominal","scale":{"domain":["bk","rd","wh","gn","yl","bl"],"range":["#000000","#ee1c1c","#ffffff","#31b531","#f3e52b","#4e96e2"]},"legend":null}}},
    {"transform":[{"filter":"datum.k=='st'"}],"mark":{"type":"rule","strokeWidth":2,"color":"#000"},"encoding":{"x":{"field":"x","type":"quantitative"},"y":{"field":"lo","type":"quantitative"},"y2":{"field":"hi"}}},
    {"transform":[{"filter":"datum.k=='st'"}],"mark":{"type":"tick","orient":"horizontal","size":22,"thickness":2,"color":"#000"},"encoding":{"x":{"field":"x","type":"quantitative"},"y":{"field":"m","type":"quantitative"}}},
    {"transform":[{"filter":"datum.k=='st'"}],"mark":{"type":"tick","orient":"horizontal","size":12,"thickness":2,"color":"#000"},"encoding":{"x":{"field":"x","type":"quantitative"},"y":{"field":"lo","type":"quantitative"}}},
    {"transform":[{"filter":"datum.k=='st'"}],"mark":{"type":"tick","orient":"horizontal","size":12,"thickness":2,"color":"#000"},"encoding":{"x":{"field":"x","type":"quantitative"},"y":{"field":"hi","type":"quantitative"}}},
    {"transform":[{"filter":"datum.k=='sig'"}],"mark":{"type":"rule","strokeWidth":2,"color":"#000"},"encoding":{"x":{"field":"x1","type":"quantitative"},"x2":{"field":"x2"},"y":{"field":"y","type":"quantitative"}}},
    {"transform":[{"filter":"datum.k=='sig'"}],"mark":{"type":"text","fontSize":18,"fontWeight":"bold","baseline":"alphabetic","dy":1,"color":"#000"},"encoding":{"x":{"field":"xc","type":"quantitative"},"y":{"field":"y","type":"quantitative"},"text":{"field":"t"}}}
   ]},
   {"width":90,"height":40,"data":{"name":"leg"},"transform":[{"filter":"datum.L=='E'"}],"layer":[
    {"mark":{"type":"point","shape":"square","filled":true,"size":75,"stroke":"#1a1a1a","strokeWidth":1},"encoding":{"x":{"datum":0,"type":"quantitative","scale":{"domain":[0,1]},"axis":null},"y":{"field":"i","type":"quantitative","scale":{"domain":[-0.05,1.95],"reverse":true},"axis":null},"fill":{"field":"g","type":"nominal","scale":{"domain":["bk","rd","wh","gn","yl","bl"],"range":["#000000","#ee1c1c","#ffffff","#31b531","#f3e52b","#4e96e2"]},"legend":null}}},
    {"mark":{"type":"text","align":"left","baseline":"middle","dx":16,"fontSize":11,"color":"#111"},"encoding":{"x":{"datum":0,"type":"quantitative"},"y":{"field":"i","type":"quantitative"},"text":{"field":"t"}}}
   ]}
  ]},
  {"title":{"text":"F","dx":5,"offset":20},"bounds":"flush","spacing":14,"hconcat":[
   {"width":74,"height":146,"data":{"name":"all"},"transform":[{"filter":"datum.p=='F'"}],"layer":[
    {"transform":[{"filter":"datum.k=='pt'"}],"mark":{"type":"point","shape":"square","filled":true,"size":75,"stroke":"#1a1a1a","strokeWidth":1},"encoding":{"x":{"field":"x","type":"quantitative","scale":{"domain":[0.5,2.5]},"axis":{"values":[1,2],"tickCount":20,"title":null}},"y":{"field":"y","type":"quantitative","scale":{"domain":[0,6]},"axis":{"values":[0,2,4,6],"tickCount":20,"labelOverlap":false,"format":"d","title":["Staphylococcus","(log₁₀/lung)"],"minExtent":41,"titleX":-19,"titleFontSize":10.5,"titleLineHeight":11}},"fill":{"field":"g","type":"nominal","scale":{"domain":["bk","rd","wh","gn","yl","bl"],"range":["#000000","#ee1c1c","#ffffff","#31b531","#f3e52b","#4e96e2"]},"legend":null}}},
    {"transform":[{"filter":"datum.k=='st'"}],"mark":{"type":"rule","strokeWidth":2,"color":"#000"},"encoding":{"x":{"field":"x","type":"quantitative"},"y":{"field":"lo","type":"quantitative"},"y2":{"field":"hi"}}},
    {"transform":[{"filter":"datum.k=='st'"}],"mark":{"type":"tick","orient":"horizontal","size":22,"thickness":2,"color":"#000"},"encoding":{"x":{"field":"x","type":"quantitative"},"y":{"field":"m","type":"quantitative"}}},
    {"transform":[{"filter":"datum.k=='st'"}],"mark":{"type":"tick","orient":"horizontal","size":12,"thickness":2,"color":"#000"},"encoding":{"x":{"field":"x","type":"quantitative"},"y":{"field":"lo","type":"quantitative"}}},
    {"transform":[{"filter":"datum.k=='st'"}],"mark":{"type":"tick","orient":"horizontal","size":12,"thickness":2,"color":"#000"},"encoding":{"x":{"field":"x","type":"quantitative"},"y":{"field":"hi","type":"quantitative"}}},
    {"transform":[{"filter":"datum.k=='sig'"}],"mark":{"type":"rule","strokeWidth":2,"color":"#000"},"encoding":{"x":{"field":"x1","type":"quantitative"},"x2":{"field":"x2"},"y":{"field":"y","type":"quantitative"}}},
    {"transform":[{"filter":"datum.k=='sig'"}],"mark":{"type":"text","fontSize":18,"fontWeight":"bold","baseline":"alphabetic","dy":1,"color":"#000"},"encoding":{"x":{"field":"xc","type":"quantitative"},"y":{"field":"y","type":"quantitative"},"text":{"field":"t"}}}
   ]},
   {"width":125,"height":42,"data":{"name":"leg"},"transform":[{"filter":"datum.L=='F'"}],"layer":[
    {"mark":{"type":"point","shape":"square","filled":true,"size":75,"stroke":"#1a1a1a","strokeWidth":1},"encoding":{"x":{"datum":0,"type":"quantitative","scale":{"domain":[0,1]},"axis":null},"y":{"field":"i","type":"quantitative","scale":{"domain":[-0.0476,1.952],"reverse":true},"axis":null},"fill":{"field":"g","type":"nominal","scale":{"domain":["bk","rd","wh","gn","yl","bl"],"range":["#000000","#ee1c1c","#ffffff","#31b531","#f3e52b","#4e96e2"]},"legend":null}}},
    {"mark":{"type":"text","align":"left","baseline":"middle","dx":16,"fontSize":11,"color":"#111"},"encoding":{"x":{"datum":0,"type":"quantitative"},"y":{"field":"i","type":"quantitative"},"text":{"field":"t"}}}
   ]}
  ]},
  {"title":{"text":"G","dx":36,"offset":22},"bounds":"flush","spacing":20,"hconcat":[
   {"width":74,"height":146,"data":{"name":"all"},"transform":[{"filter":"datum.p=='G'"}],"layer":[
    {"transform":[{"filter":"datum.k=='pt'"}],"mark":{"type":"point","shape":"square","filled":true,"size":75,"stroke":"#1a1a1a","strokeWidth":1},"encoding":{"x":{"field":"x","type":"quantitative","scale":{"domain":[0.5,2.5]},"axis":{"values":[1,2],"tickCount":20,"title":null}},"y":{"field":"y","type":"quantitative","scale":{"domain":[0,6]},"axis":{"values":[0,2,4,6],"tickCount":20,"labelOverlap":false,"format":"d","title":["Staphylococcus","(log₁₀/lung)"],"minExtent":41,"titleX":-19,"titleFontSize":10.5,"titleLineHeight":11}},"fill":{"field":"g","type":"nominal","scale":{"domain":["bk","rd","wh","gn","yl","bl"],"range":["#000000","#ee1c1c","#ffffff","#31b531","#f3e52b","#4e96e2"]},"legend":null}}},
    {"transform":[{"filter":"datum.k=='st'"}],"mark":{"type":"rule","strokeWidth":2,"color":"#000"},"encoding":{"x":{"field":"x","type":"quantitative"},"y":{"field":"lo","type":"quantitative"},"y2":{"field":"hi"}}},
    {"transform":[{"filter":"datum.k=='st'"}],"mark":{"type":"tick","orient":"horizontal","size":22,"thickness":2,"color":"#000"},"encoding":{"x":{"field":"x","type":"quantitative"},"y":{"field":"m","type":"quantitative"}}},
    {"transform":[{"filter":"datum.k=='st'"}],"mark":{"type":"tick","orient":"horizontal","size":12,"thickness":2,"color":"#000"},"encoding":{"x":{"field":"x","type":"quantitative"},"y":{"field":"lo","type":"quantitative"}}},
    {"transform":[{"filter":"datum.k=='st'"}],"mark":{"type":"tick","orient":"horizontal","size":12,"thickness":2,"color":"#000"},"encoding":{"x":{"field":"x","type":"quantitative"},"y":{"field":"hi","type":"quantitative"}}},
    {"transform":[{"filter":"datum.k=='sig'"}],"mark":{"type":"rule","strokeWidth":2,"color":"#000"},"encoding":{"x":{"field":"x1","type":"quantitative"},"x2":{"field":"x2"},"y":{"field":"y","type":"quantitative"}}},
    {"transform":[{"filter":"datum.k=='sig'"}],"mark":{"type":"text","fontSize":18,"fontWeight":"bold","baseline":"alphabetic","dy":1,"color":"#000"},"encoding":{"x":{"field":"xc","type":"quantitative"},"y":{"field":"y","type":"quantitative"},"text":{"field":"t"}}}
   ]},
   {"width":130,"height":40,"data":{"name":"leg"},"transform":[{"filter":"datum.L=='G'"}],"layer":[
    {"mark":{"type":"point","shape":"square","filled":true,"size":75,"stroke":"#1a1a1a","strokeWidth":1},"encoding":{"x":{"datum":0,"type":"quantitative","scale":{"domain":[0,1]},"axis":null},"y":{"field":"i","type":"quantitative","scale":{"domain":[-0.0526,2.05],"reverse":true},"axis":null},"fill":{"field":"g","type":"nominal","scale":{"domain":["bk","rd","wh","gn","yl","bl"],"range":["#000000","#ee1c1c","#ffffff","#31b531","#f3e52b","#4e96e2"]},"legend":null}}},
    {"mark":{"type":"text","align":"left","baseline":"middle","dx":16,"fontSize":11,"color":"#111"},"encoding":{"x":{"datum":0,"type":"quantitative"},"y":{"field":"i","type":"quantitative"},"text":{"field":"t"}}}
   ]}
  ]}
 ]}
]}
]
}
